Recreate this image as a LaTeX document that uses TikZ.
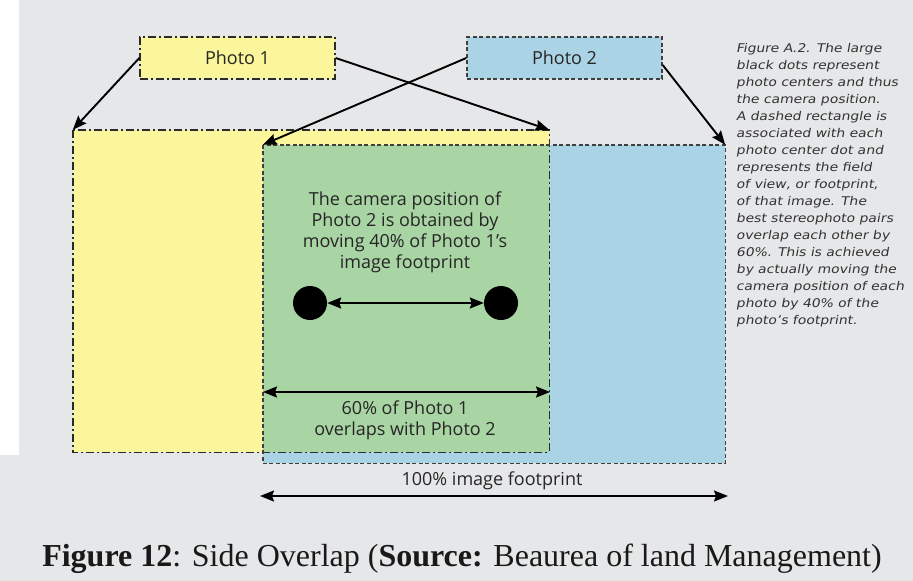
\documentclass[tikz,border=0pt]{standalone}
\usepackage{fontspec}
\setmainfont{Open Sans}
\newfontfamily\handfont[FakeStretch=1.16,FakeSlant=0.18]{DejaVu Sans}
\newfontfamily\capfont{Liberation Serif}
\usetikzlibrary{arrows.meta}
\definecolor{bggrey}{HTML}{E6E7E9}
\definecolor{footyellow}{HTML}{FBF59B}
\definecolor{footblue}{HTML}{ABD3E6}
\definecolor{footgreen}{HTML}{A9D4A4}
\definecolor{inkgrey}{HTML}{2A2A2A}

\begin{document}
\begin{tikzpicture}[x=1pt,y=-1pt,
    dashdot/.style={draw=inkgrey, line width=1.4pt, dash pattern=on 8pt off 3pt on 2pt off 3pt},
    dashline/.style={draw=inkgrey!90, line width=1.4pt, dash pattern=on 4pt off 2.5pt},
    arr/.style={-{Stealth[length=14pt,width=11pt,inset=2pt]}, line width=1.9pt},
    darr/.style={{Stealth[length=14pt,width=11pt,inset=2pt]}-{Stealth[length=14pt,width=11pt,inset=2pt]}, line width=1.9pt},
    photobox/.style={minimum width=195pt, minimum height=42pt, inner sep=0pt, text=black!85, font=\fontsize{18}{21}\selectfont},
    footprint/.style={inner sep=0pt},
    dot/.style={circle, fill=black, minimum size=34pt, inner sep=0pt},
    note/.style={align=center, text=black!85, font=\fontsize{18}{21}\selectfont}]
    \useasboundingbox (0,0) rectangle (913,581);
    \fill [bggrey] (0,0) rectangle (913,581);
    \fill [white] (0,0) rectangle (19,455);

    % photo labels
    \node [photobox, fill=footyellow, dashdot] (photoA) at (237.5,58) {Photo 1};
    \node [photobox, fill=footblue, dashline] (photoB) at (564.5,58) {Photo 2};

    % footprints, filled first
    \node [footprint, fill=footyellow, minimum width=476pt, minimum height=322pt] (footA) at (311,291) {};
    \node [footprint, fill=footblue, minimum width=462pt, minimum height=318pt] (footB) at (494,304) {};
    \fill [footgreen] (footB.north west) rectangle (footA.south east);
    \draw [dashdot] (footA.north west) rectangle (footA.south east);
    \draw [dashline] (footB.north west) rectangle (footB.south east);

    \draw [arr] (photoA.west) -- (footA.north west);
    \draw [arr] (photoA.east) -- (footA.north east);
    \draw [arr] (photoB.west) -- (footB.north west);
    \draw [arr] ([yshift=-7pt]photoB.east) -- (footB.north east);

    % camera positions
    \node [note] (camtext) at (405,232) {The camera position of\\Photo 2 is obtained by\\moving 40\% of Photo 1’s\\image footprint};
    \node [dot] (camA) at (310,303) {};
    \node [dot] (camB) at (501,303) {};
    \draw [darr] (camA) -- (camB);

    % overlap
    \path coordinate (ovA) at (263,392);
    \path coordinate (ovB) at (550,392);
    \draw [darr] (ovA) -- (ovB);
    \node [note] (ovtext) at (405,420) {60\% of Photo 1\\overlaps with Photo 2};

    % full footprint
    \path coordinate (fullA) at (260,496);
    \path coordinate (fullB) at (728,496);
    \draw [darr] (fullA) -- (fullB);
    \node [note] (fulltext) at (492,481) {100\% image footprint};

    \node [anchor=north west, align=left, inner sep=0pt, text=black!80,
      font=\handfont\fontsize{12}{17}\selectfont] (remark) at (736,43)
      {Figure A.2. The large\\black dots represent\\photo centers and thus\\the camera position.\\A dashed rectangle is\\associated with each\\photo center dot and\\represents the field\\of view, or footprint,\\of that image. The\\best stereophoto pairs\\overlap each other by\\60\%. This is achieved\\by actually moving the\\camera position of each\\photo by 40\% of the\\photo’s footprint.};

    \node [anchor=base, font=\capfont\fontsize{32}{36}\selectfont, text=black!90] (caption) at (462,566)
      {\textbf{Figure 12}: Side Overlap (\textbf{Source:} Beaurea of land Management)};
\end{tikzpicture}
\end{document}
